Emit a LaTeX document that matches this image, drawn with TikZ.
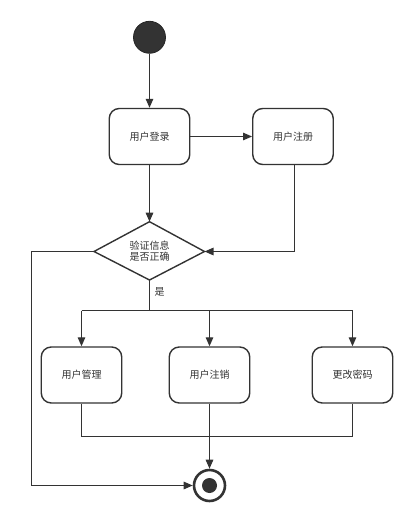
\documentclass[tikz,border=0pt]{standalone}
\usepackage{fontspec}
\newfontfamily\cjk{Noto Sans CJK SC}
\usetikzlibrary{arrows.meta,shapes.geometric}
\definecolor{ink}{HTML}{333333}
\tikzset{
  stbox/.style={draw=ink,line width=1.4pt,rounded corners=10pt,fill=white,minimum width=80.5pt,minimum height=56pt,inner sep=0pt,font=\cjk\fontsize{10}{12}\selectfont,text=ink},
  lbl/.style={font=\cjk\fontsize{10}{12}\selectfont,text=ink,align=center},
  conn/.style={draw=ink,line width=1.3pt},
  arr/.style={conn,-{Triangle[length=9pt,width=7.5pt]}},
}
\begin{document}
\begin{tikzpicture}[x=1pt,y=-1pt]
\useasboundingbox (0,0) rectangle (418,524);
\node[circle,fill=ink,draw=black!85,line width=0.8pt,minimum size=32pt,inner sep=0pt] (start) at (149.5,37.3) {};
\node[stbox] (login) at (149.5,136.5) {用户登录};
\node[stbox] (reg) at (293,136.5) {用户注册};
\coordinate (dt) at (149.5,221.7);
\coordinate (db) at (149.5,280);
\coordinate (dl) at (94,251.5);
\coordinate (dr) at (204.5,251.5);
\draw[draw=ink,line width=1.4pt,fill=white] (dt) -- (dr) -- (db) -- (dl) -- cycle;
\node[lbl] (dlab) at (149.5,251) {验证信息\\[-1pt]是否正确};
\node[stbox] (m1) at (81.5,375) {用户管理};
\node[stbox] (m2) at (209.5,375) {用户注销};
\node[stbox] (m3) at (352.5,375) {更改密码};
\node[circle,draw=ink,line width=2.6pt,fill=white,minimum size=31pt,inner sep=0pt] (fin) at (209.5,485.5) {};
\node[circle,fill=ink,minimum size=15pt,inner sep=0pt] (finin) at (fin) {};
\coordinate (split) at (149.5,310.5);
\coordinate (s1) at (81.5,310.5);
\coordinate (s2) at (209.5,310.5);
\coordinate (s3) at (352.5,310.5);
\coordinate (j1) at (81.5,436.5);
\coordinate (j2) at (209.5,436.5);
\coordinate (j3) at (352.5,436.5);
\coordinate (regc) at (294.5,251.5);
\coordinate (lc1) at (31.5,251.5);
\coordinate (lc2) at (31.5,485.5);
\node[lbl,anchor=west] (yes) at (151,292) {是};
\draw[arr] (start) -- (login);
\draw[arr] (login) -- (reg);
\draw[arr] (login) -- (dt);
\draw[conn] (reg.south -| regc) -- (regc);
\draw[arr] (regc) -- (dr);
\draw[conn] (db) -- (split);
\draw[conn] (s1) -- (s3);
\draw[arr] (s1) -- (m1);
\draw[arr] (s2) -- (m2);
\draw[arr] (s3) -- (m3);
\draw[conn] (m1) -- (j1) -- (j3) -- (m3);
\draw[arr] (m2) -- (fin);
\draw[arr] (dl) -- (lc1) -- (lc2) -- (fin);
\end{tikzpicture}
\end{document}
